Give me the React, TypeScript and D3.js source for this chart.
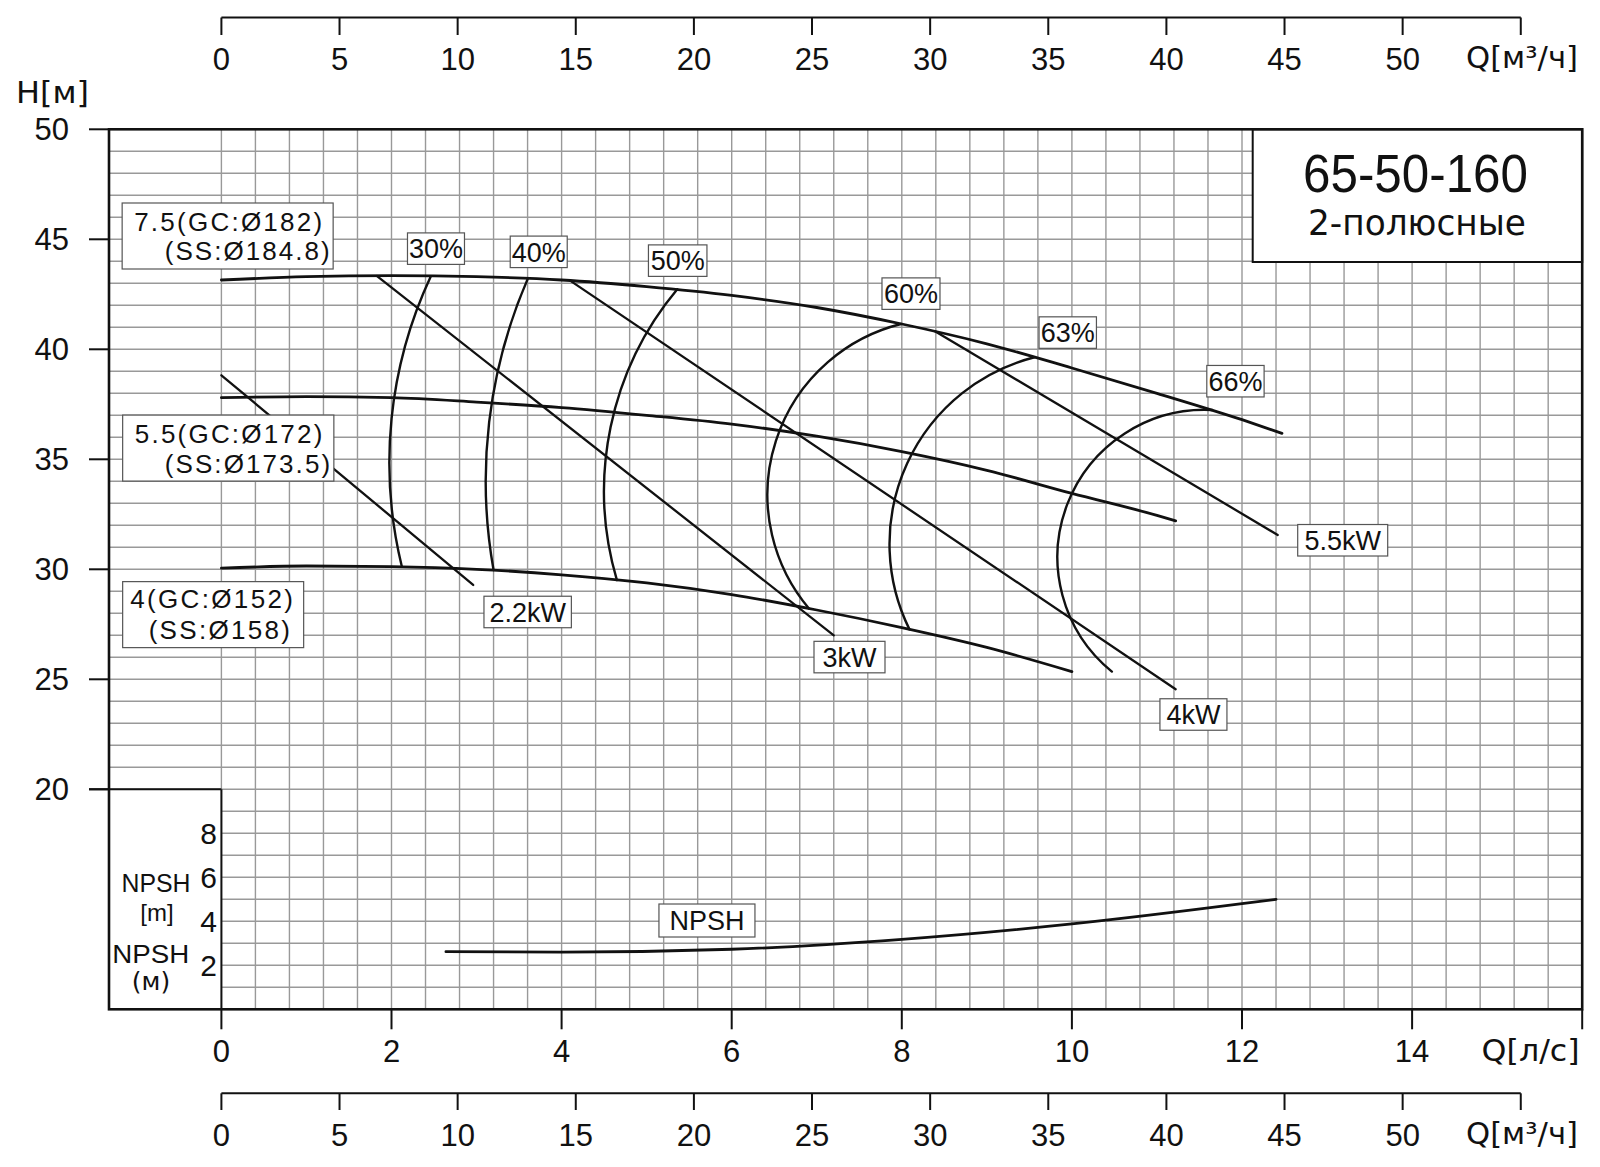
import React, { useEffect } from "react";
import * as d3 from "d3";

// ---- axes ----
const qTicksLs = [0, 2, 4, 6, 8, 10, 12, 14, 16];
const qLabelsLs = [0, 2, 4, 6, 8, 10, 12, 14];
const qTicksM3h = [0, 5, 10, 15, 20, 25, 30, 35, 40, 45, 50, 55];
const qLabelsM3h = [0, 5, 10, 15, 20, 25, 30, 35, 40, 45, 50];
const headTicks = [20, 25, 30, 35, 40, 45, 50];
const npshTicks = [2, 4, 6, 8];

// ---- Q-H curves per impeller, [Q l/s, H m] ----
const curve75: [number, number][] = [
  [0, 43.15], [1, 43.3], [2, 43.35], [3, 43.3], [4, 43.15], [5, 42.85], [6, 42.45],
  [7, 41.9], [8, 41.15], [9, 40.25], [10, 39.15], [11, 38.0], [12, 36.8], [12.47, 36.18],
];
const curve55: [number, number][] = [
  [0, 37.8], [1, 37.85], [2, 37.8], [3, 37.6], [4, 37.35], [5, 37.0], [6, 36.6],
  [7, 36.05], [8, 35.35], [9, 34.5], [10, 33.45], [11, 32.45], [11.22, 32.2],
];
const curve4: [number, number][] = [
  [0, 30.05], [1, 30.15], [2, 30.12], [3, 30.0], [4, 29.75], [5, 29.38], [6, 28.85],
  [7, 28.15], [8, 27.35], [9, 26.45], [10, 25.35],
];

// ---- NPSH, [Q l/s, NPSH m] ----
const npshCurve: [number, number][] = [
  [2.64, 2.62], [4, 2.6], [6, 2.73], [8, 3.18], [10, 3.88], [12, 4.8], [12.4, 5.0],
];

// ---- shaft power lines ----
const power22: [number, number][] = [[0, 38.82], [2.96, 29.29]];
const power3: [number, number][] = [[1.83, 43.33], [7.2, 27.0]];
const power4: [number, number][] = [[4.1, 43.12], [11.22, 24.55]];
const power55: [number, number][] = [[8.39, 40.82], [12.42, 31.56]];

// ---- iso-efficiency arcs: upper end, a point on the bow, lower end ----
const eff30: [number, number][] = [[2.46, 43.3], [1.975, 34.66], [2.12, 30.15]];
const eff40: [number, number][] = [[3.6, 43.18], [3.11, 34.66], [3.2, 29.97]];
const eff50: [number, number][] = [[5.36, 42.73], [4.5, 33.9], [4.65, 29.51]];
const eff60: [number, number][] = [[7.99, 41.15], [6.42, 33.5], [6.91, 28.21]];
const eff63: [number, number][] = [[9.56, 39.64], [7.86, 31.7], [8.09, 27.27]];
const eff66: [number, number][] = [[11.65, 37.24], [9.83, 30.6], [10.47, 25.35]];

// ---- tag labels: centre in data units ----
const tagTexts = ["30%", "40%", "50%", "60%", "63%", "66%", "2.2kW", "3kW", "4kW", "5.5kW"];
const tagQ = [2.523, 3.731, 5.365, 8.108, 9.951, 11.923, 3.601, 7.385, 11.429, 13.184];
const tagH = [44.575, 44.43, 44.03, 42.53, 40.76, 38.55, 28.06, 26.01, 23.4, 31.32];
const tagW = [57, 57, 58.5, 58, 57.4, 57.3, 87.4, 71, 67, 90];

// ---- impeller labels: top-left corner in data units ----
const impLine1 = ["7.5(GC:Ø182)", "5.5(GC:Ø172)", "4(GC:Ø152)"];
const impLine2 = ["(SS:Ø184.8)", "(SS:Ø173.5)", "(SS:Ø158)"];
const impQ = [-1.167, -1.161, -1.161];
const impH = [46.65, 37.01, 29.44];
const impLayout = [
  { w: 211, l1: [12, 28, 188], l2: [42.6, 57, 165] },
  { w: 211.2, l1: [12.2, 27.5, 187.5], l2: [42.1, 57.5, 165.4] },
  { w: 181, l1: [7.5, 26.5, 162.8], l2: [26, 57.5, 141.2] },
];

const FONT = "'Liberation Sans', Arial, sans-serif";
const FONT2 = "'DejaVu Sans', 'Liberation Sans', sans-serif";

export default function App() {
  useEffect(() => {
    document.body.style.margin = "0";
  }, []);

  const W = 1600;
  const Hh = 1167;
  const x = d3.scaleLinear().domain([0, 16]).range([221.4, 1582.2]);
  const y = d3.scaleLinear().domain([10, 50]).range([1009.3, 129.3]);
  const yN = d3.scaleLinear().domain([0, 40]).range([1009.3, 129.3]);
  const xM = d3.scaleLinear().domain([0, 57.6]).range([221.4, 1582.2]);

  const left = 109;
  const right = x(16);
  const top = y(50);
  const bottom = y(10);

  const smooth = d3.line<[number, number]>().x((d) => x(d[0])).y((d) => y(d[1])).curve(d3.curveMonotoneX);
  const straight = d3.line<[number, number]>().x((d) => x(d[0])).y((d) => y(d[1]));
  const npshLine = d3.line<[number, number]>().x((d) => x(d[0])).y((d) => yN(d[1])).curve(d3.curveMonotoneX);

  // circular arc through three points, drawn with d3.path
  const arc3 = (pts: [number, number][]) => {
    const [ax, ay] = [x(pts[0][0]), y(pts[0][1])];
    const [bx, by] = [x(pts[1][0]), y(pts[1][1])];
    const [cx, cy] = [x(pts[2][0]), y(pts[2][1])];
    const d = 2 * (ax * (by - cy) + bx * (cy - ay) + cx * (ay - by));
    const a2 = ax * ax + ay * ay;
    const b2 = bx * bx + by * by;
    const c2 = cx * cx + cy * cy;
    const ux = (a2 * (by - cy) + b2 * (cy - ay) + c2 * (ay - by)) / d;
    const uy = (a2 * (cx - bx) + b2 * (ax - cx) + c2 * (bx - ax)) / d;
    const r = Math.hypot(ax - ux, ay - uy);
    const a0 = Math.atan2(ay - uy, ax - ux);
    const a1 = Math.atan2(cy - uy, cx - ux);
    const cross = (bx - ax) * (cy - by) - (by - ay) * (cx - bx);
    const p = d3.path();
    p.moveTo(ax, ay);
    p.arc(ux, uy, r, a0, a1, cross < 0);
    return p.toString();
  };

  const vGrid = d3.range(0, 16.0001, 0.4);
  const hGrid = d3.range(10, 50.0001, 1);

  const boxStroke = "#555";

  return (
    <svg width={W} height={Hh} style={{ position: "absolute", left: 0, top: 0, background: "#fff" }}>
      <rect x={0} y={0} width={W} height={Hh} fill="#fff" />

      {/* grid */}
      <g stroke="#999" strokeWidth={1.4}>
        {hGrid.map((h) => (
          <line key={"h" + h} x1={left} x2={right} y1={y(h)} y2={y(h)} />
        ))}
        {vGrid.map((q) => (
          <line key={"v" + q} x1={x(q)} x2={x(q)} y1={top} y2={bottom} />
        ))}
      </g>

      {/* NPSH scale box */}
      <rect x={left} y={y(20)} width={x(0) - left} height={bottom - y(20)} fill="#fff" />
      <line x1={89} x2={x(0)} y1={y(20)} y2={y(20)} stroke="#111" strokeWidth={2} />
      <line x1={x(0)} x2={x(0)} y1={y(20)} y2={bottom} stroke="#111" strokeWidth={2} />

      {/* title box */}
      <rect x={1252.7} y={top} width={right - 1252.7} height={262 - top} fill="#fff" stroke="#111" strokeWidth={2} />
      <text x={1415.5} y={191.5} fontFamily={FONT} fontSize={53} textAnchor="middle" fill="#111"
        textLength={225} lengthAdjust="spacingAndGlyphs">65-50-160</text>
      <text x={1417} y={235} fontFamily={FONT2} fontSize={36} textAnchor="middle" fill="#111"
        textLength={218} lengthAdjust="spacingAndGlyphs">2-полюсные</text>

      {/* frame */}
      <rect x={left} y={top} width={right - left} height={bottom - top} fill="none" stroke="#111" strokeWidth={2.6} />

      {/* head axis */}
      <g stroke="#111" strokeWidth={2}>
        {headTicks.map((h) => (
          <line key={"ht" + h} x1={89} x2={left} y1={y(h)} y2={y(h)} />
        ))}
      </g>
      <g fontFamily={FONT} fontSize={31} fill="#111" textAnchor="end">
        {headTicks.map((h) => (
          <text key={"hl" + h} x={69} y={y(h) + 10.5}>{h}</text>
        ))}
      </g>
      <text x={16} y={103} fontFamily={FONT2} fontSize={31} fill="#111" textLength={73} lengthAdjust="spacingAndGlyphs">H[м]</text>

      {/* NPSH axis */}
      <g fontFamily={FONT} fontSize={30} fill="#111" textAnchor="end">
        {npshTicks.map((n) => (
          <text key={"nl" + n} x={217} y={yN(n) + 11}>{n}</text>
        ))}
      </g>
      <g fontFamily={FONT} fill="#111" textAnchor="middle">
        <text x={156} y={892} fontSize={26} textLength={69} lengthAdjust="spacingAndGlyphs">NPSH</text>
        <text x={157} y={921} fontSize={24}>[m]</text>
        <text x={150.7} y={963} fontSize={26} textLength={77} lengthAdjust="spacingAndGlyphs">NPSH</text>
        <text x={151} y={990} fontSize={25} fontFamily={FONT2}>(м)</text>
      </g>

      {/* bottom l/s axis */}
      <g stroke="#111" strokeWidth={2}>
        {qTicksLs.map((q) => (
          <line key={"qt" + q} x1={x(q)} x2={x(q)} y1={bottom} y2={bottom + 20} />
        ))}
      </g>
      <g fontFamily={FONT} fontSize={31} fill="#111" textAnchor="middle">
        {qLabelsLs.map((q) => (
          <text key={"ql" + q} x={x(q)} y={1062}>{q}</text>
        ))}
      </g>
      <text x={1481.6} y={1061} fontFamily={FONT2} fontSize={30} fill="#111" textLength={98} lengthAdjust="spacingAndGlyphs">Q[л/с]</text>

      {/* m³/h axes, top and bottom */}
      {[{ line: 17.5, tick: 35, label: 70 }, { line: 1093.3, tick: 1110, label: 1146 }].map((a, i) => (
        <g key={"ma" + i}>
          <line x1={xM(0)} x2={xM(55)} y1={a.line} y2={a.line} stroke="#111" strokeWidth={2} />
          {qTicksM3h.map((m) => (
            <line key={"mt" + m} x1={xM(m)} x2={xM(m)} y1={a.line} y2={a.tick} stroke="#111" strokeWidth={2} />
          ))}
          <g fontFamily={FONT} fontSize={31} fill="#111" textAnchor="middle">
            {qLabelsM3h.map((m) => (
              <text key={"ml" + m} x={xM(m)} y={a.label}>{m}</text>
            ))}
          </g>
          <text x={1466} y={a.label - 2} fontFamily={FONT2} fontSize={30} fill="#111" textLength={112} lengthAdjust="spacingAndGlyphs">Q[м³/ч]</text>
        </g>
      ))}

      {/* curves */}
      <g fill="none" stroke="#111" strokeLinecap="round">
        <path d={straight(power22) || ""} strokeWidth={2.3} />
        <path d={straight(power3) || ""} strokeWidth={2.3} />
        <path d={straight(power4) || ""} strokeWidth={2.3} />
        <path d={straight(power55) || ""} strokeWidth={2.3} />
        {[eff30, eff40, eff50, eff60, eff63, eff66].map((e, i) => (
          <path key={"e" + i} d={arc3(e)} strokeWidth={2.4} />
        ))}
        {[curve75, curve55, curve4].map((c, i) => (
          <path key={"c" + i} d={smooth(c) || ""} strokeWidth={2.8} />
        ))}
        <path d={npshLine(npshCurve) || ""} strokeWidth={2.8} />
      </g>

      {/* tags */}
      {tagTexts.map((t, i) => {
        const cx = x(tagQ[i]);
        const cy = y(tagH[i]);
        const w = tagW[i];
        const h = 31.5;
        return (
          <g key={"tag" + i}>
            <rect x={cx - w / 2} y={cy - h / 2} width={w} height={h} fill="#fff" stroke={boxStroke} strokeWidth={1.2} />
            <text x={cx} y={cy + 9.7} fontFamily={FONT} fontSize={27} textAnchor="middle" fill="#111">{t}</text>
          </g>
        );
      })}
      <g>
        <rect x={x(5.709) - 48} y={yN(4.036) - 16.5} width={96} height={33} fill="#fff" stroke={boxStroke} strokeWidth={1.2} />
        <text x={x(5.709)} y={yN(4.036) + 9.7} fontFamily={FONT} fontSize={27} textAnchor="middle" fill="#111">NPSH</text>
      </g>

      {/* impeller labels */}
      {impLine1.map((t, i) => {
        const bx = x(impQ[i]);
        const by = y(impH[i]);
        const L = impLayout[i];
        return (
          <g key={"imp" + i} fontFamily={FONT} fontSize={26} fill="#111">
            <rect x={bx} y={by} width={L.w} height={66} fill="#fff" stroke={boxStroke} strokeWidth={1.2} />
            <text x={bx + L.l1[0]} y={by + L.l1[1]} textLength={L.l1[2]} lengthAdjust="spacing">{t}</text>
            <text x={bx + L.l2[0]} y={by + L.l2[1]} textLength={L.l2[2]} lengthAdjust="spacing">{impLine2[i]}</text>
          </g>
        );
      })}
    </svg>
  );
}
